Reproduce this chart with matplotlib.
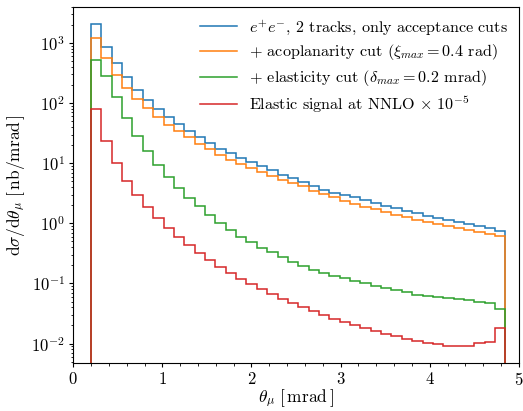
import numpy as np
import matplotlib
matplotlib.use("Agg")
import matplotlib.pyplot as plt

plt.rcParams['font.family'] = 'serif'
plt.rcParams['font.serif'] = ['cmr10', 'DejaVu Serif']
plt.rcParams['mathtext.fontset'] = 'cm'
plt.rcParams['axes.formatter.use_mathtext'] = True
plt.rcParams['axes.unicode_minus'] = False

# bin edges: 40 bins from 0.2 to 4.85 mrad
theta_min = 0.2
theta_max = 4.85
n_bins = 40

acceptance = [2090, 868, 464, 268, 167, 114, 80.8, 58.7, 44.9, 33.8,
              26.9, 21.7, 17.4, 14.6, 12.2, 10.4, 8.85, 7.59, 6.44, 5.59,
              4.80, 4.11, 3.62, 3.25, 2.96, 2.70, 2.40, 2.18, 1.96, 1.77,
              1.60, 1.46, 1.32, 1.21, 1.12, 1.035, 0.959, 0.888, 0.822, 0.745]

acoplanarity = [1211, 554, 297, 178, 118, 82.8, 58.7, 43.7, 33.8, 26.9,
                21.1, 17.4, 13.7, 11.4, 9.62, 8.26, 7.08, 6.08, 5.31, 4.69,
                4.11, 3.48, 3.07, 2.70, 2.38, 2.09, 1.87, 1.72, 1.52, 1.39,
                1.27, 1.15, 1.05, 0.973, 0.888, 0.822, 0.762, 0.716, 0.653, 0.615]

elasticity = [521, 286, 126, 56.5, 28.7, 15.7, 9.19, 5.85, 3.84, 2.62,
              1.91, 1.38, 1.016, 0.783, 0.598, 0.480, 0.382, 0.328, 0.275, 0.227,
              0.192, 0.169, 0.149, 0.133, 0.123, 0.108, 0.100, 0.0906, 0.0838, 0.0766,
              0.0708, 0.0649, 0.0624, 0.0594, 0.0571, 0.0550, 0.0530, 0.0491, 0.0465, 0.0375]

signal = [78.5, 23.7, 10.2, 5.11, 2.99, 1.85, 1.21, 0.828, 0.587, 0.428,
          0.321, 0.245, 0.187, 0.149, 0.120, 0.0962, 0.0794, 0.0656, 0.0552, 0.0465,
          0.0399, 0.0342, 0.0294, 0.0259, 0.0228, 0.0206, 0.0181, 0.0161, 0.0146, 0.0131,
          0.0120, 0.0110, 0.0102, 0.00966, 0.00918, 0.00895, 0.00895, 0.0102, 0.0108, 0.0178]

labels = [r"$e^{+}e^{-}$, 2 tracks, only acceptance cuts",
          r"+ acoplanarity cut ($\xi_{max}=0.4$ rad)",
          r"+ elasticity cut ($\delta_{max}=0.2$ mrad)",
          r"Elastic signal at NNLO $\times\ 10^{-5}$"]
colors = ['#1f77b4', '#ff7f0e', '#2ca02c', '#d62728']

edges = np.linspace(theta_min, theta_max, n_bins + 1)

fig = plt.figure(figsize=(5.23, 4.11), dpi=100)
ax = fig.add_axes([0.140, 0.1175, 0.852, 0.866])

for vals, lab, col in zip([acceptance, acoplanarity, elasticity, signal], labels, colors):
    ax.stairs(vals, edges, baseline=1e-5, color=col, lw=1.1, label=lab)

ax.set_yscale('log')
ax.set_xlim(0, 5)
ax.set_ylim(4.8e-3, 4000)
ax.tick_params(labelsize=12, which='major', length=3, pad=3)
ax.tick_params(which='minor', length=1.8)
ax.set_xlabel(r"$\theta_\mu\ [\,\mathrm{mrad}\,]$", fontsize=12.5, labelpad=0)
ax.set_ylabel(r"$\mathrm{d}\sigma/\mathrm{d}\theta_\mu\ [\,\mathrm{nb/mrad}\,]$", fontsize=12.5, labelpad=3)
ax.xaxis.set_minor_locator(matplotlib.ticker.MultipleLocator(0.2))

leg = ax.legend(loc='upper right', fontsize=11.6, frameon=False,
                handlelength=2.3, handletextpad=0.7, labelspacing=0.36,
                borderaxespad=0.1, borderpad=0.6)

fig.savefig("out.png", dpi=100)
